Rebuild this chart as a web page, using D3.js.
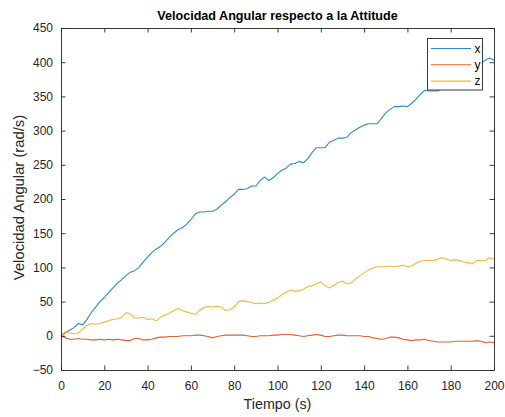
<!DOCTYPE html>
<html>
<head>
<meta charset="utf-8">
<script src="https://cdn.jsdelivr.net/npm/d3@7"></script>
<style>
  html, body { margin: 0; padding: 0; background: #fff; }
  svg { display: block; font-family: "Liberation Sans", Arial, Helvetica, sans-serif; }
</style>
</head>
<body>
<svg id="chart" width="505" height="417"></svg>
<script>
// Sample times (s), every 2 s
const tiempo = d3.range(0, 201, 2);

// Angular velocity components (rad/s)
const velX = [0, 4, 8, 12, 18, 16, 24, 34, 42, 50, 56, 63, 70, 77, 82, 88, 93, 95, 100, 108,
  115, 122, 127, 131, 137, 144, 150, 155, 158, 163, 170, 178, 181, 181, 182, 182, 185, 191, 196, 202,
  207, 214, 214, 215, 219, 219, 227, 232, 227, 231, 237, 242, 245, 251, 252, 255, 253, 259, 268, 275,
  275, 275, 283, 286, 289, 289, 290, 297, 301, 305, 308, 310, 310, 310, 318, 326, 331, 335, 335, 336,
  335, 340, 346, 353, 359, 358, 358, 358, 362, 366, 370, 374, 378, 382, 386, 390, 394, 398, 403, 406, 403];

const velY = [0, -3, -5, -5, -4, -5, -5, -6, -6, -5, -6, -5, -6, -5, -6, -7, -7, -4, -4, -6,
  -6, -5, -3, -2, -2, -1, -1, -1, 0, 0, 0, 1, 1, 0, -1, -3, -1, 0, 1, 1,
  1, 1, 1, 0, -1, -1, 0, 0, 0, 1, 1, 2, 2, 2, 1, 0, -1, 0, 1, 2,
  1, -1, -1, 0, 1, 1, 0, 0, 0, 0, -1, -1, -3, -4, -5, -4, -2, -2, -3, -5,
  -6, -7, -6, -6, -5, -7, -8, -9, -9, -9, -9, -8, -8, -8, -8, -8, -7, -8, -10, -9, -10];

const velZ = [0, 6, 4, 3, 4, 10, 15, 18, 17, 18, 20, 22, 24, 25, 27, 34, 32, 26, 26, 27,
  24, 25, 22, 27, 30, 33, 37, 40, 37, 35, 33, 31, 37, 41, 43, 42, 43, 42, 37, 38,
  42, 50, 51, 50, 49, 47, 48, 47, 49, 52, 55, 60, 64, 67, 65, 66, 68, 72, 73, 76,
  79, 73, 70, 74, 78, 80, 76, 77, 83, 88, 92, 96, 99, 101, 101, 101, 102, 101, 102, 103,
  101, 102, 106, 109, 110, 110, 110, 112, 114, 112, 110, 111, 110, 108, 107, 105, 110, 110, 110, 114, 112];

const seriesNames = ["x", "y", "z"];
const seriesValues = [velX, velY, velZ];
const seriesColors = ["#2C8ACF", "#DE6232", "#EFBA3A"];

const xTicks = [0, 20, 40, 60, 80, 100, 120, 140, 160, 180, 200];
const yTicks = [-50, 0, 50, 100, 150, 200, 250, 300, 350, 400, 450];

const titleText = "Velocidad Angular respecto a la Attitude";
const xLabelText = "Tiempo (s)";
const yLabelText = "Velocidad Angular (rad/s)";

// Layout
const svg = d3.select("#chart");
const mLeft = 61, mRight = 494, mTop = 28, mBottom = 370;
const axisColor = "#262626";

const x = d3.scaleLinear().domain([0, 200]).range([mLeft, mRight]);
const y = d3.scaleLinear().domain([-50, 450]).range([mBottom, mTop]);

// Series lines
const line = d3.line()
  .x((d, i) => x(tiempo[i]))
  .y(d => y(d));

const plot = svg.append("g");
seriesValues.forEach((vals, k) => {
  plot.append("path")
    .datum(vals)
    .attr("fill", "none")
    .attr("stroke", seriesColors[k])
    .attr("stroke-width", 1.1)
    .attr("stroke-linejoin", "round")
    .attr("d", line);
});

// Axes (ticks pointing inward, box around the plot)
function styleAxis(g) {
  g.selectAll(".domain").attr("stroke", axisColor).attr("stroke-width", 0.9);
  g.selectAll(".tick line").attr("stroke", axisColor).attr("stroke-width", 0.9);
  g.selectAll(".tick text").attr("fill", axisColor)
    .style("font-size", "12px")
    .style("font-family", "'Liberation Sans', Arial, sans-serif");
}

svg.append("g")
  .attr("transform", `translate(0,${mBottom})`)
  .call(d3.axisBottom(x).tickValues(xTicks).tickFormat(d3.format("d"))
    .tickSizeInner(-4.5).tickSizeOuter(0).tickPadding(11.5))
  .call(styleAxis);

svg.append("g")
  .attr("transform", `translate(0,${mTop})`)
  .call(d3.axisTop(x).tickValues(xTicks).tickFormat("")
    .tickSizeInner(-4.5).tickSizeOuter(0))
  .call(styleAxis);

svg.append("g")
  .attr("transform", `translate(${mLeft},0)`)
  .call(d3.axisLeft(y).tickValues(yTicks).tickFormat(d3.format("d"))
    .tickSizeInner(-4.5).tickSizeOuter(0).tickPadding(8))
  .call(styleAxis);

svg.append("g")
  .attr("transform", `translate(${mRight},0)`)
  .call(d3.axisRight(y).tickValues(yTicks).tickFormat("")
    .tickSizeInner(-4.5).tickSizeOuter(0))
  .call(styleAxis);

// Title and axis labels
svg.append("text")
  .attr("x", (mLeft + mRight) / 2).attr("y", 20)
  .attr("text-anchor", "middle")
  .attr("fill", "#000")
  .style("font-size", "12.6px").style("font-weight", "bold")
  .text(titleText);

svg.append("text")
  .attr("x", (mLeft + mRight) / 2).attr("y", 408.5)
  .attr("text-anchor", "middle")
  .attr("fill", axisColor)
  .style("font-size", "14.3px")
  .text(xLabelText);

svg.append("text")
  .attr("transform", `translate(23.5,197.5) rotate(-90)`)
  .attr("text-anchor", "middle")
  .attr("fill", axisColor)
  .style("font-size", "14.8px")
  .text(yLabelText);

// Legend
const legend = svg.append("g");
legend.append("rect")
  .attr("x", 427.5).attr("y", 38.5).attr("width", 55).attr("height", 51.5)
  .attr("fill", "#fff").attr("stroke", axisColor).attr("stroke-width", 0.9);

seriesNames.forEach((name, k) => {
  const ly = 48.5 + k * 16.3;
  legend.append("line")
    .attr("x1", 431).attr("x2", 471).attr("y1", ly).attr("y2", ly)
    .attr("stroke", seriesColors[k]).attr("stroke-width", 1.1);
  legend.append("text")
    .attr("x", 474.5).attr("y", ly + 4.2)
    .attr("fill", "#000")
    .style("font-size", "12px")
    .text(name);
});
</script>
</body>
</html>
